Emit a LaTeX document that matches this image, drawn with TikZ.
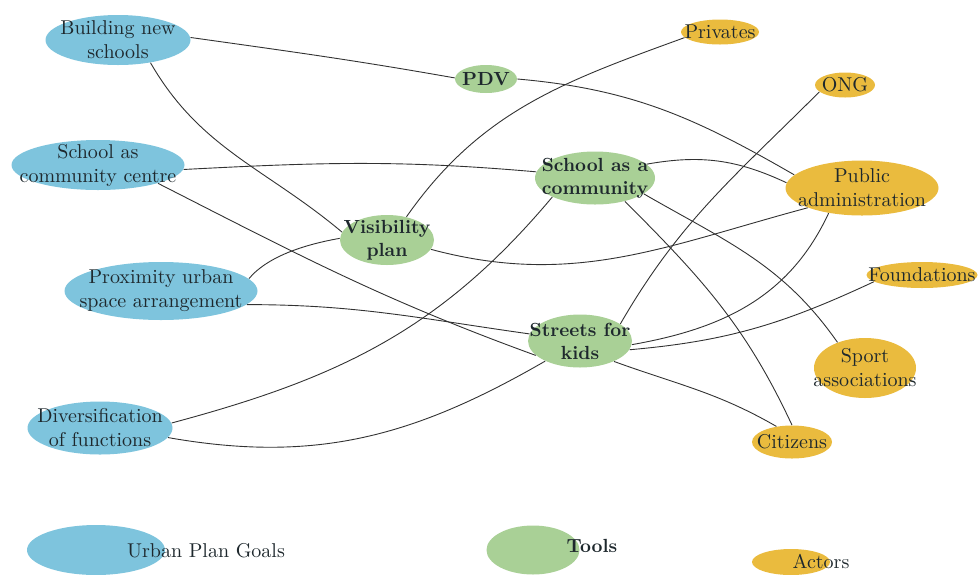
\documentclass[tikz,border=0pt]{standalone}
\usetikzlibrary{shapes.geometric}
\definecolor{goalblue}{RGB}{126,196,221}
\definecolor{toolgreen}{RGB}{169,208,150}
\definecolor{actoryellow}{RGB}{234,187,62}
\definecolor{ink}{RGB}{30,40,45}
\definecolor{wire}{RGB}{50,50,50}
\begin{document}
\begin{tikzpicture}[x=0.5pt,y=0.5pt,
    blob/.style={ellipse, inner xsep=-20pt, inner ysep=-10pt, align=center,
      text=ink, font=\fontsize{10}{12}\selectfont},
    blobsize/.style 2 args={minimum width=#1, minimum height=#2},
    goal/.style={blob, fill=goalblue},
    tool/.style={blob, fill=toolgreen, font=\fontsize{9.5}{11.5}\selectfont\bfseries},
    actor/.style={blob, fill=actoryellow},
    keytext/.style={text=ink, font=\fontsize{10}{12}\selectfont}]
  \useasboundingbox (0,0) rectangle (979,-574);
  % urban plan goals
  \node[goal, blobsize={72.5pt}{25pt}] (bns) at (118,-40) {Building new\\schools};
  \node[goal, blobsize={86.5pt}{25pt}] (sacc) at (98,-165) {School as\\community centre};
  \node[goal, blobsize={96.5pt}{29pt}] (pusa) at (161,-291) {Proximity urban\\space arrangement};
  \node[goal, blobsize={72.5pt}{26.5pt}] (dof) at (100,-428) {Diversification\\of functions};
  % tools
  \node[tool, blobsize={31pt}{14pt}] (pdv) at (486,-79) {PDV};
  \node[tool, blobsize={60pt}{26.5pt}] (sac) at (595,-178) {School as a\\community};
  \node[tool, blobsize={47pt}{25pt}] (vp) at (387,-240) {Visibility\\plan};
  \node[tool, blobsize={52pt}{26.5pt}] (sfk) at (580,-341) {Streets for\\kids};
  % actors
  \node[actor, blobsize={39pt}{12.5pt}] (priv) at (720,-32) {Privates};
  \node[actor, blobsize={30pt}{12.5pt}] (ong) at (845,-85) {ONG};
  \node[actor, blobsize={76.5pt}{27.5pt}] (pa) at (862,-188) {Public\\administration};
  \node[actor, blobsize={55.5pt}{13pt}] (found) at (922,-275) {Foundations};
  \node[actor, blobsize={51pt}{30pt}] (sa) at (865,-368) {Sport\\associations};
  \node[actor, blobsize={40pt}{16.5pt}] (cit) at (792,-442) {Citizens};
  % legend
  \node[goal, blobsize={69pt}{25pt}] (goalkey) at (96,-550) {};
  \node[keytext] (goallabel) at (206,-551) {Urban Plan Goals};
  \node[tool, blobsize={46.5pt}{24.5pt}] (toolkey) at (533,-550) {};
  \node[keytext, font=\fontsize{9.5}{11.5}\selectfont\bfseries] (toollabel) at (592,-546) {Tools};
  \node[actor, blobsize={39pt}{13pt}] (actorkey) at (791,-562) {};
  \node[keytext] (actorlabel) at (821,-561) {Actors};
  % links
  \begin{scope}[draw=wire, line width=0.45pt]
    \draw (bns.2) to[out=-8, in=170] (pdv.178);
    \draw (pdv.0) to[out=-5, in=150] (pa.169);
    \draw (bns.-35) to[out=-60, in=140] (vp.170);
    \draw (sacc.-3) to[out=3, in=175] (sac.174);
    \draw (sacc.-17) to[out=-27, in=160] (sfk.-162);
    \draw (pusa.8) to[out=50, in=190, looseness=0.8] (vp.178);
    \draw (pusa.-9) to[out=0, in=172] (sfk.172);
    \draw (dof.4) to[out=15, in=-130] (sac.-156);
    \draw (dof.-8) to[out=-10, in=-150] (sfk.-150);
    \draw (vp.50) to[out=55, in=200] (priv.189);
    \draw (vp.-12) to[out=-15, in=195] (pa.200);
    \draw (sac.15) to[out=10, in=155] (pa.176);
    \draw (sac.-18) to[out=-30, in=125] (sa.137);
    \draw (sac.-38) to[out=-45, in=115] (cit.90);
    \draw (sfk.23) to[out=60, in=-135] (ong.195);
    \draw (sfk.-4) to[out=10, in=-115] (pa.-143);
    \draw (sfk.-10) to[out=5, in=-155] (found.188);
    \draw (sfk.-31) to[out=-20, in=150] (cit.135);
  \end{scope}
\end{tikzpicture}
\end{document}
